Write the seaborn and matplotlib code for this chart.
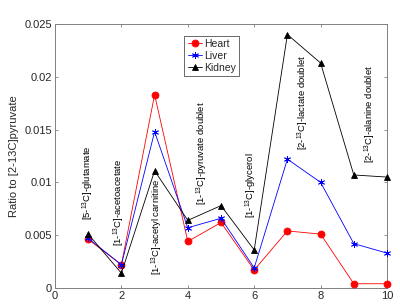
import pandas as pd
import matplotlib
matplotlib.use('Agg')
import matplotlib.pyplot as plt
import seaborn as sns

# --- data ---
x_pos = [1, 2, 3, 4, 5, 6, 7, 8, 9, 10]
heart = [0.0046, 0.0022, 0.0183, 0.0044, 0.0062, 0.0017, 0.0054, 0.0051, 0.0004, 0.0004]
liver = [0.0047, 0.0022, 0.0148, 0.0057, 0.0066, 0.0019, 0.0122, 0.0100, 0.0042, 0.0033]
kidney = [0.0051, 0.0014, 0.0111, 0.0064, 0.0078, 0.0036, 0.0240, 0.0213, 0.0107, 0.0105]

peak_labels = [
    r'[5-$^{13}$C]-glutamate',
    r'[1-$^{13}$C]-acetoacetate',
    r'[1-$^{13}$C]-acetyl carnitine',
    r'[1-$^{13}$C]-pyruvate doublet',
    r'[1-$^{13}$C]-glycerol',
    r'[2-$^{13}$C]-lactate doublet',
    r'[2-$^{13}$C]-alanine doublet',
]
label_x = [1.0, 1.94, 3.08, 4.44, 5.92, 7.49, 9.5]
label_y = [0.0064, 0.0040, 0.0012, 0.0079, 0.0066, 0.0131, 0.0118]

x_ticks = [0, 2, 4, 6, 8, 10]
y_ticks = [0, 0.005, 0.01, 0.015, 0.02, 0.025]
y_tick_labels = ['0', '0.005', '0.01', '0.015', '0.02', '0.025']

series = {'Heart': heart, 'Liver': liver, 'Kidney': kidney}
colors = {'Heart': '#ff0000', 'Liver': '#0000ff', 'Kidney': '#000000'}
markers = {'Heart': 'o', 'Liver': (6, 2, 0), 'Kidney': '^'}
msizes = {'Heart': 5, 'Liver': 5, 'Kidney': 5}

df = pd.DataFrame([
    {'x': x, 'ratio': v, 'tissue': name}
    for name, vals in series.items() for x, v in zip(x_pos, vals)
])

sns.set_style('ticks')
plt.rcParams['font.family'] = ['Liberation Sans', 'DejaVu Sans']
plt.rcParams['mathtext.default'] = 'regular'

fig, ax = plt.subplots(figsize=(4.0, 3.07), dpi=100)
fig.subplots_adjust(left=0.1375, right=0.9675, bottom=0.062, top=0.922)

for name in series:
    sns.lineplot(data=df[df['tissue'] == name], x='x', y='ratio',
                 color=colors[name], marker=markers[name],
                 markersize=msizes[name], markeredgecolor=colors[name],
                 markeredgewidth=0.6, linewidth=0.6, label=name,
                 clip_on=False, zorder=3, ax=ax)

for txt, lx, ly in zip(peak_labels, label_x, label_y):
    ax.text(lx, ly, txt, rotation=90, ha='center', va='bottom',
            fontsize=6.8, color='black')

ax.set_xlim(0, 10)
ax.set_ylim(0, 0.025)
ax.set_xticks(x_ticks)
ax.set_yticks(y_ticks)
ax.set_yticklabels(y_tick_labels)
ax.set_xlabel('')
ax.set_ylabel('Ratio to [2-13C]pyruvate', fontsize=8, color='#262626')
ax.tick_params(direction='in', length=2.5, width=0.6, top=True, right=True,
               labelsize=8, colors='#808080', labelcolor='#262626', pad=2)
for sp in ax.spines.values():
    sp.set_visible(True)
    sp.set_color('#808080')
    sp.set_linewidth(0.7)

leg = ax.legend(loc='upper left', bbox_to_anchor=(0.39, 0.955), fontsize=7.5,
                frameon=True, fancybox=False, handlelength=1.4,
                handletextpad=0.2, borderpad=0.3, labelspacing=0.2,
                borderaxespad=0)
leg.get_frame().set_edgecolor('#262626')
leg.get_frame().set_linewidth(0.6)

fig.savefig('out.png', dpi=100)
